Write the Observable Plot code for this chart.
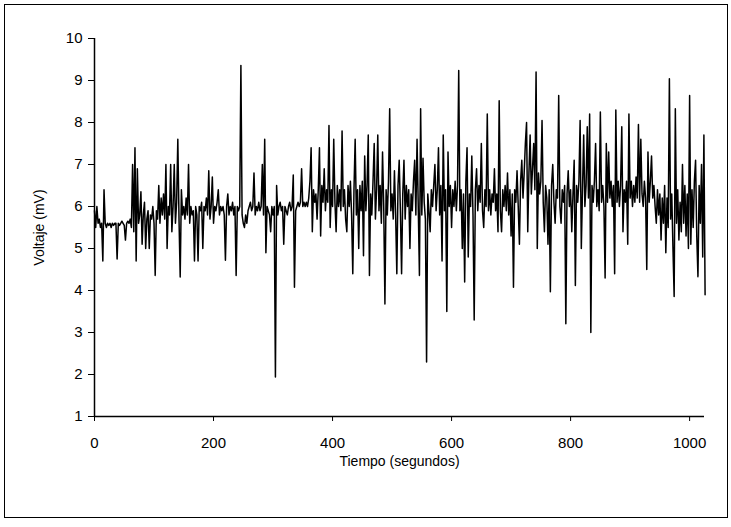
<!DOCTYPE html>
<html>
<head>
<meta charset="utf-8">
<script src="https://cdn.jsdelivr.net/npm/d3@7"></script>
<script src="https://cdn.jsdelivr.net/npm/@observablehq/plot@0.6"></script>
<style>
  html, body { margin: 0; padding: 0; background: #fff; }
  #wrap { position: relative; width: 731px; height: 527px; }
  #border { position: absolute; left: 4px; top: 4px; width: 722px; height: 512px; border: 1px solid #000; }
  #chart { position: absolute; left: 0; top: 0; }
</style>
</head>
<body>
<div id="wrap"><div id="border"></div><div id="chart"></div></div>
<script>
// Sampling step (seconds) and voltage readings (mV)
const timeStep = 2;
const voltage = [
  5.9,5.5,6.0,5.6,5.7,5.5,5.6,4.7,6.4,5.6,
  5.5,5.6,5.55,5.6,5.5,5.6,5.55,5.6,5.6,4.75,
  5.6,5.55,5.6,5.65,5.6,5.55,5.2,5.6,5.65,5.6,
  5.7,5.5,7.0,5.4,7.4,4.7,6.9,5.6,5.8,6.35,
  5.1,5.8,6.1,5.0,5.7,5.9,5.0,5.8,5.7,6.0,
  5.6,4.36,5.9,5.7,6.5,5.6,6.2,5.8,6.3,5.7,
  7.0,5.0,6.0,5.8,7.0,5.4,6.0,7.0,5.6,6.1,
  7.6,5.7,4.32,6.4,5.8,6.0,5.7,6.2,5.8,7.0,
  5.6,6.0,5.8,5.9,4.7,6.0,5.8,4.7,6.0,5.9,
  6.1,5.0,6.0,5.9,6.2,5.8,6.85,5.7,6.0,6.7,
  5.6,6.0,5.9,6.1,6.4,5.8,6.0,5.9,6.0,5.8,
  4.72,6.0,6.3,5.8,6.0,5.9,6.1,5.8,6.0,4.36,
  6.0,5.9,6.0,9.36,5.8,5.6,5.5,5.8,5.6,5.9,
  6.0,6.1,5.9,6.0,6.8,5.8,6.0,5.9,6.1,5.9,
  6.0,7.0,5.8,7.6,4.9,6.0,5.9,5.8,5.4,6.0,
  5.8,6.0,1.94,6.5,5.8,6.0,6.1,5.9,6.0,5.1,
  6.0,5.9,5.8,6.0,6.1,5.9,6.0,6.75,4.08,5.9,
  6.0,6.1,6.0,6.1,6.9,6.0,6.1,6.0,6.1,6.0,
  6.2,6.6,7.4,5.4,6.4,6.1,6.3,5.7,6.4,7.4,
  5.3,6.5,6.1,6.9,5.9,6.4,6.1,7.93,5.5,6.4,
  6.0,7.6,6.1,5.4,6.5,6.0,6.4,5.9,7.8,6.0,
  6.4,5.7,5.4,6.5,6.0,6.6,5.8,4.4,6.4,7.6,
  5.8,6.4,5.0,6.5,5.9,6.6,4.83,7.2,5.9,6.5,
  7.7,4.36,6.3,5.8,6.6,7.5,5.7,6.4,7.7,5.9,
  6.5,5.6,7.3,6.0,3.68,6.4,5.8,6.6,8.33,5.9,
  6.3,5.7,6.85,5.8,4.4,6.5,7.1,5.9,4.4,6.3,
  7.1,5.7,6.5,6.0,6.4,5.0,6.3,5.9,6.6,7.1,
  5.8,7.6,6.0,4.36,8.33,5.8,7.15,6.1,5.7,2.3,
  6.3,5.9,5.4,6.4,6.0,6.5,7.0,5.9,6.4,7.4,
  5.8,6.5,4.7,7.7,5.9,6.4,3.5,7.3,6.0,6.5,
  5.5,6.4,6.0,6.6,5.9,6.5,9.24,5.9,6.4,5.0,
  6.3,4.2,6.6,7.4,4.8,6.3,6.0,7.2,5.8,3.3,
  6.4,6.9,5.9,6.5,6.1,7.5,5.9,5.5,6.4,6.0,
  8.2,5.9,6.4,5.8,6.3,6.1,6.9,5.9,6.3,5.4,
  8.52,5.9,5.4,6.4,6.0,6.5,5.9,6.8,5.8,6.4,
  5.3,6.3,4.08,6.4,6.1,6.85,6.0,5.1,6.6,7.1,
  6.2,6.8,7.5,8.0,5.4,6.8,7.7,6.3,6.9,7.5,
  6.4,9.2,5.0,6.8,6.3,6.6,8.05,6.1,5.4,6.5,
  6.2,5.1,6.4,3.97,6.5,7.0,6.1,5.6,6.4,6.2,
  8.64,6.0,5.6,6.4,6.1,6.5,3.21,6.3,6.85,6.0,
  6.4,5.4,6.3,7.1,4.12,6.5,6.1,6.6,8.05,5.0,
  6.4,7.7,6.0,6.5,7.9,6.2,8.2,3.0,6.5,6.1,
  6.6,7.5,6.0,6.4,5.9,8.25,6.1,6.5,6.0,4.3,
  7.5,6.1,7.3,6.2,6.6,6.0,6.5,4.4,8.3,6.1,
  6.6,6.0,6.5,7.9,5.4,6.4,6.1,6.6,5.1,8.2,
  6.2,6.6,6.0,6.5,6.1,6.7,6.2,7.95,6.1,7.6,
  6.3,6.0,6.6,6.2,4.5,7.3,6.1,6.6,7.2,6.2,
  6.5,6.0,5.6,6.4,5.8,6.3,5.2,6.2,5.6,6.5,
  4.9,6.2,5.5,9.04,5.7,6.3,5.0,3.86,8.33,5.6,
  6.4,5.2,6.1,5.4,7.0,5.6,6.5,5.3,6.3,5.0,
  8.64,5.1,6.4,5.5,6.6,7.1,5.3,4.33,6.5,5.6,
  7.0,4.8,7.7,3.9
];
const xTicks = [0, 200, 400, 600, 800, 1000];
const yTicks = [1, 2, 3, 4, 5, 6, 7, 8, 9, 10];
const xLabel = "Tiempo (segundos)";
const yLabel = "Voltaje (mV)";

const data = voltage.map((v, i) => ({t: i * timeStep, v}));

const chart = Plot.plot({
  width: 731,
  height: 527,
  marginLeft: 94,
  marginRight: 27,
  marginTop: 38,
  marginBottom: 111,
  style: {fontFamily: "'Liberation Sans', Arial, sans-serif", background: "transparent", color: "#000"},
  x: {domain: [0, 1025]},
  y: {domain: [1, 10]},
  marks: [
    Plot.axisY({ticks: yTicks, tickSize: 6, tickPadding: 6, fontSize: 15, label: null, tickFormat: d => String(d)}),
    Plot.axisX({ticks: xTicks, tickSize: 5, tickPadding: 16, fontSize: 15, label: null, tickFormat: d => String(d)}),
    Plot.text([yLabel], {frameAnchor: "left", dx: -55, rotate: -90, fontSize: 14, textAnchor: "middle"}),
    Plot.text([xLabel], {frameAnchor: "bottom", dy: 49, fontSize: 14, textAnchor: "middle"}),
    Plot.lineY(data, {x: "t", y: "v", stroke: "#000", strokeWidth: 1.5}),
    Plot.ruleX([0], {stroke: "#000", strokeWidth: 1.5}),
    Plot.ruleY([1], {stroke: "#000", strokeWidth: 1.5})
  ]
});
document.getElementById("chart").appendChild(chart);
</script>
</body>
</html>
